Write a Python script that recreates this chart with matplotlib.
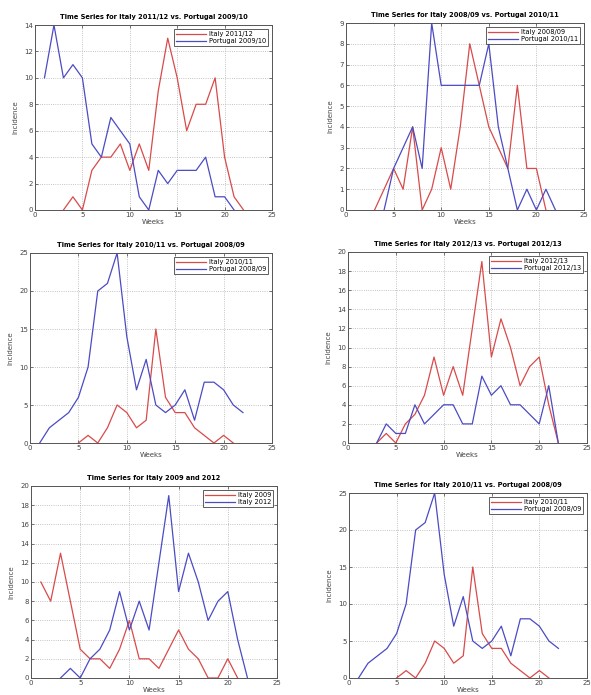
import matplotlib
matplotlib.use("Agg")
import matplotlib.pyplot as plt

# ---------------- data ----------------
weeks_it1112 = list(range(3, 23))
italy_2011_12 = [0, 1, 0, 3, 4, 4, 5, 3, 5, 3, 9, 13, 10, 6, 8, 8, 10, 4, 1, 0]
weeks_pt0910 = list(range(1, 22))
portugal_2009_10 = [10, 14, 10, 11, 10, 5, 4, 7, 6, 5, 1, 0, 3, 2, 3, 3, 3, 4, 1, 1, 0]

weeks_it0809 = list(range(3, 22))
italy_2008_09 = [0, 1, 2, 1, 4, 0, 1, 3, 1, 4, 8, 6, 4, 3, 2, 6, 2, 2, 0]
weeks_pt1011 = list(range(4, 23))
portugal_2010_11 = [0, 2, 3, 4, 2, 9, 6, 6, 6, 6, 6, 8, 4, 2, 0, 1, 0, 1, 0]

weeks_it1011 = list(range(5, 22))
italy_2010_11 = [0, 1, 0, 2, 5, 4, 2, 3, 15, 6, 4, 4, 2, 1, 0, 1, 0]
weeks_pt0809 = list(range(1, 23))
portugal_2008_09 = [0, 2, 3, 4, 6, 10, 20, 21, 25, 14, 7, 11, 5, 4, 5, 7, 3, 8, 8, 7, 5, 4]

weeks_it1213 = list(range(3, 23))
italy_2012_13 = [0, 1, 0, 2, 3, 5, 9, 5, 8, 5, 12, 19, 9, 13, 10, 6, 8, 9, 4, 0]
weeks_pt1213 = list(range(3, 23))
portugal_2012_13 = [0, 2, 1, 1, 4, 2, 3, 4, 4, 2, 2, 7, 5, 6, 4, 4, 3, 2, 6, 0]

weeks_it2009 = list(range(1, 22))
italy_2009 = [10, 8, 13, 8, 3, 2, 2, 1, 3, 6, 2, 2, 1, 3, 5, 3, 2, 0, 0, 2, 0]
weeks_it2012 = weeks_it1213
italy_2012 = italy_2012_13

titles = [
    "Time Series for Italy 2011/12 vs. Portugal 2009/10",
    "Time Series for Italy 2008/09 vs. Portugal 2010/11",
    "Time Series for Italy 2010/11 vs. Portugal 2008/09",
    "Time Series for Italy 2012/13 vs. Portugal 2012/13",
    "Time Series for Italy 2009 and 2012",
    "Time Series for Italy 2010/11 vs. Portugal 2008/09",
]

panels = [
    ((weeks_it1112, italy_2011_12, "Italy 2011/12"), (weeks_pt0910, portugal_2009_10, "Portugal 2009/10"), 14, 2),
    ((weeks_it0809, italy_2008_09, "Italy 2008/09"), (weeks_pt1011, portugal_2010_11, "Portugal 2010/11"), 9, 1),
    ((weeks_it1011, italy_2010_11, "Italy 2010/11"), (weeks_pt0809, portugal_2008_09, "Portugal 2008/09"), 25, 5),
    ((weeks_it1213, italy_2012_13, "Italy 2012/13"), (weeks_pt1213, portugal_2012_13, "Portugal 2012/13"), 20, 2),
    ((weeks_it2009, italy_2009, "Italy 2009"), (weeks_it2012, italy_2012, "Italy 2012"), 20, 2),
    ((weeks_it1011, italy_2010_11, "Italy 2010/11"), (weeks_pt0809, portugal_2008_09, "Portugal 2008/09"), 25, 5),
]

# axes boxes in pixels: left, top, right, bottom
boxes = [
    (35, 25, 272, 210),
    (346, 23, 584, 210),
    (30, 253, 272, 443),
    (348, 252, 587, 443),
    (31, 486, 277, 678),
    (349, 493, 587, 678),
]

W, H = 591, 695
fig = plt.figure(figsize=(W / 100, H / 100), dpi=100)
fig.patch.set_facecolor("white")

RED = "#d94a4a"
BLUE = "#4b4bc4"

for (s1, s2, ymax, ystep), (l, t, r, b), title in zip(panels, boxes, titles):
    ax = fig.add_axes([l / W, 1 - b / H, (r - l) / W, (b - t) / H])
    ax.plot(s1[0], s1[1], color=RED, lw=0.9, label=s1[2])
    ax.plot(s2[0], s2[1], color=BLUE, lw=0.9, label=s2[2])
    ax.set_xlim(0, 25)
    ax.set_ylim(0, ymax)
    ax.set_xticks(range(0, 26, 5))
    ax.set_yticks(range(0, ymax + 1, ystep))
    ax.grid(True, linestyle=":", color="#b0b0b0", lw=0.6)
    ax.tick_params(labelsize=5, length=2, width=0.5, colors="#444444", direction="in",
                   top=True, right=True, pad=1.5)
    for sp in ax.spines.values():
        sp.set_linewidth(0.7)
        sp.set_color("#555555")
    ax.set_title(title, fontsize=4.8, fontweight="bold", pad=4)
    ax.set_ylabel("Incidence", fontsize=5, color="#444444", labelpad=4)
    ax.set_xlabel("Weeks", fontsize=5, color="#444444", labelpad=1)
    leg = ax.legend(loc="upper right", fontsize=4.8, handlelength=4.5, frameon=True,
                    fancybox=False, edgecolor="#333333", borderpad=0.3,
                    labelspacing=0.2, handletextpad=0.4, borderaxespad=0.6)
    leg.get_frame().set_linewidth(0.7)

fig.savefig("out.png", dpi=100, facecolor="white")
